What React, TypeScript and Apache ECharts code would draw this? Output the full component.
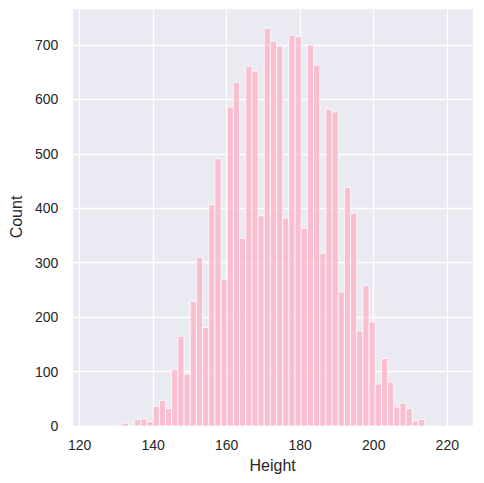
import React, { useEffect, useRef } from "react";
import * as echarts from "echarts";

// Histogram bins: left edge of first bin and bin width (cm)
const binStart = 131.62;
const binWidth = 1.678;
// Counts per bin, left to right
const counts = [
  5, 0, 12, 13, 8, 36, 47, 32, 104, 165,
  95, 229, 310, 181, 407, 491, 269, 586, 631, 345,
  661, 652, 386, 731, 707, 698, 382, 718, 715, 363,
  700, 663, 317, 582, 577, 246, 438, 391, 175, 258,
  191, 77, 124, 81, 35, 42, 32, 9, 12,
];
const xTicks = [120, 140, 160, 180, 200, 220];
const yTicks = [0, 100, 200, 300, 400, 500, 600, 700];

const FONT = "'Liberation Sans', Arial, sans-serif";
const TEXT = "#262626";

export default function App() {
  const ref = useRef<HTMLDivElement>(null);
  useEffect(() => {
    if (!ref.current) return;
    const chart = echarts.init(ref.current, undefined, { renderer: "svg" });
    const data = counts.map((c, i) => [binStart + i * binWidth, binStart + (i + 1) * binWidth, c]);
    chart.setOption({
      animation: false,
      backgroundColor: "#ffffff",
      textStyle: { fontFamily: FONT },
      grid: {
        left: 70,
        right: 11,
        top: 8,
        bottom: 57,
        show: true,
        backgroundColor: "#EAEAF2",
        borderWidth: 0,
        containLabel: false,
      },
      xAxis: {
        type: "value",
        min: 118,
        max: 227,
        splitNumber: xTicks.length - 1,
        name: "Height",
        nameLocation: "middle",
        nameGap: 31,
        nameTextStyle: { fontSize: 16, color: TEXT, fontFamily: FONT },
        axisLine: { show: false },
        axisTick: { show: false },
        axisLabel: {
          fontSize: 14,
          color: TEXT,
          margin: 12,
          fontFamily: FONT,
          showMinLabel: false,
          showMaxLabel: false,
          formatter: (v: number) => (xTicks.includes(v) ? String(v) : ""),
        },
        splitLine: { show: true, lineStyle: { color: "#ffffff", width: 1.3 } },
      },
      yAxis: {
        type: "value",
        min: 0,
        max: 768,
        interval: 100,
        name: "Count",
        nameLocation: "middle",
        nameGap: 46,
        nameRotate: 90,
        nameTextStyle: { fontSize: 16, color: TEXT, fontFamily: FONT },
        axisLine: { show: false },
        axisTick: { show: false },
        axisLabel: {
          fontSize: 14,
          color: TEXT,
          margin: 14,
          fontFamily: FONT,
          showMaxLabel: false,
          formatter: (v: number) => (yTicks.includes(v) ? String(v) : ""),
        },
        splitLine: { show: true, lineStyle: { color: "#ffffff", width: 1.3 } },
      },
      series: [
        {
          type: "custom",
          data,
          encode: { x: [0, 1], y: 2 },
          renderItem: (params: any, api: any) => {
            const lo = api.value(0);
            const hi = api.value(1);
            const c = api.value(2);
            const p0 = api.coord([lo, c]);
            const p1 = api.coord([hi, 0]);
            return {
              type: "rect",
              shape: { x: p0[0], y: p0[1], width: p1[0] - p0[0], height: p1[1] - p0[1] },
              style: { fill: "#FFAFC5", stroke: "#ffffff", lineWidth: 1, opacity: 0.75 },
            };
          },
        },
      ],
    });
    return () => chart.dispose();
  }, []);
  return (
    <div
      ref={ref}
      style={{ position: "fixed", left: 0, top: 0, width: 484, height: 483 }}
    />
  );
}
